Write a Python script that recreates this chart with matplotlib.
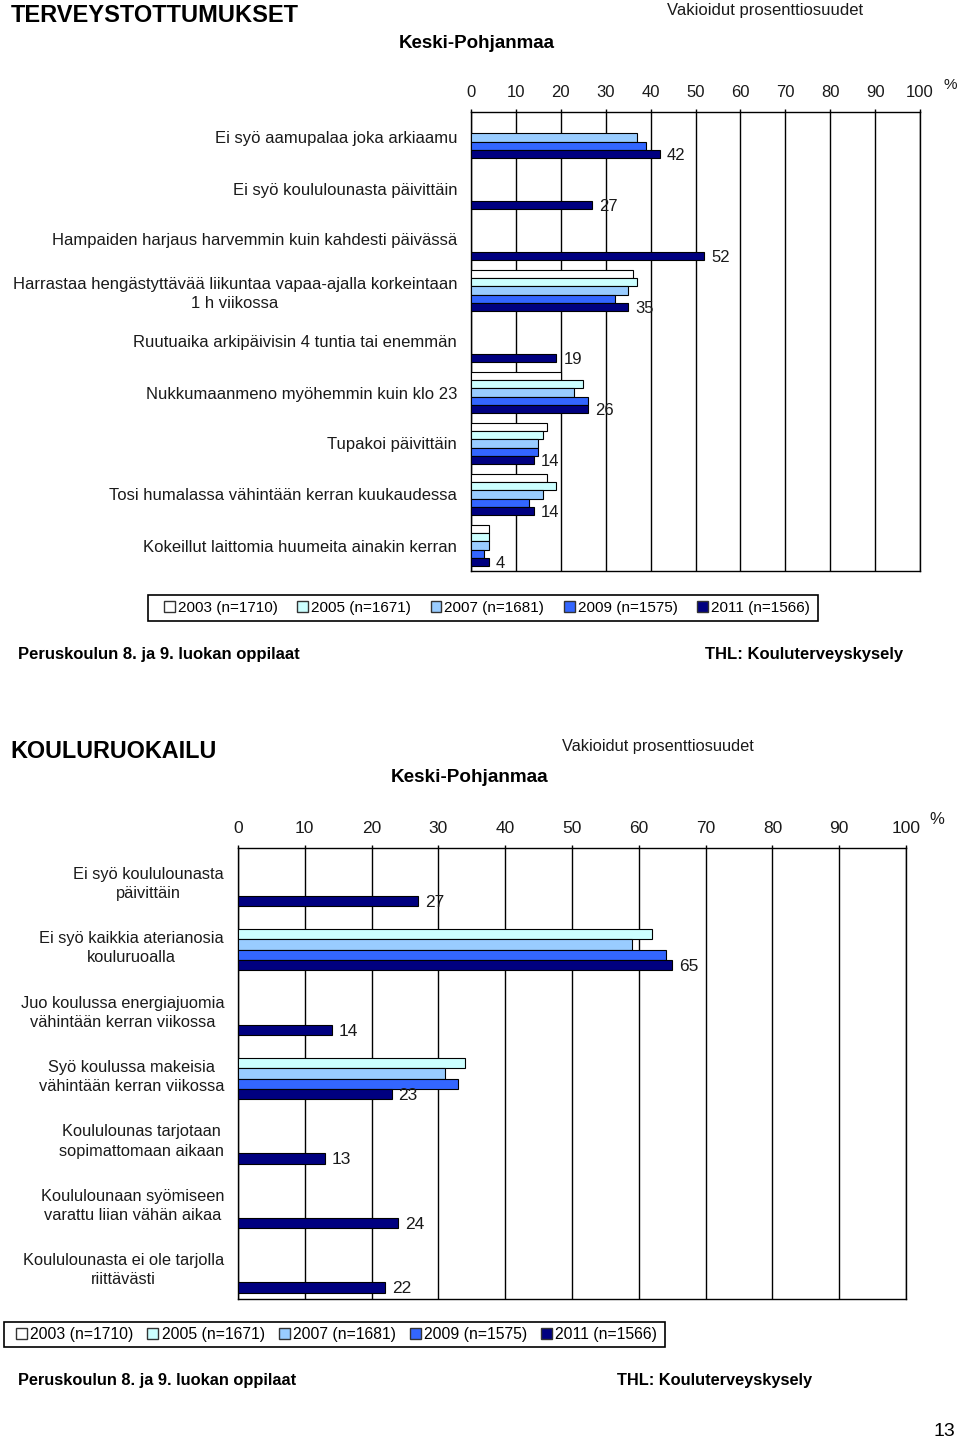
import numpy as np
import matplotlib
matplotlib.use("Agg")
import matplotlib.pyplot as plt
from matplotlib.patches import Patch, Rectangle

nan = np.nan

# --- data ---------------------------------------------------------------
years = ["2003 (n=1710)", "2005 (n=1671)", "2007 (n=1681)", "2009 (n=1575)", "2011 (n=1566)"]
colors = ["#FFFFFF", "#CCFFFF", "#99CCFF", "#3366FF", "#000080"]

top_categories = [
    "Ei syö aamupalaa joka arkiaamu",
    "Ei syö koululounasta päivittäin",
    "Hampaiden harjaus harvemmin kuin kahdesti päivässä",
    "Harrastaa hengästyttävää liikuntaa vapaa-ajalla korkeintaan\n1 h viikossa",
    "Ruutuaika arkipäivisin 4 tuntia tai enemmän",
    "Nukkumaanmeno myöhemmin kuin klo 23",
    "Tupakoi päivittäin",
    "Tosi humalassa vähintään kerran kuukaudessa",
    "Kokeillut laittomia huumeita ainakin kerran",
]
top_2003 = [nan, nan, nan, 36, nan, 20, 17, 17, 4]
top_2005 = [nan, nan, nan, 37, nan, 25, 16, 19, 4]
top_2007 = [37, nan, nan, 35, nan, 23, 15, 16, 4]
top_2009 = [39, nan, nan, 32, nan, 26, 15, 13, 3]
top_2011 = [42, 27, 52, 35, 19, 26, 14, 14, 4]

bot_categories = [
    "Ei syö koululounasta\npäivittäin",
    "Ei syö kaikkia aterianosia\nkouluruoalla",
    "Juo koulussa energiajuomia\nvähintään kerran viikossa",
    "Syö koulussa makeisia\nvähintään kerran viikossa",
    "Koululounas tarjotaan\nsopimattomaan aikaan",
    "Koululounaan syömiseen\nvarattu liian vähän aikaa",
    "Koululounasta ei ole tarjolla\nriittävästi",
]
bot_2003 = [nan, nan, nan, nan, nan, nan, nan]
bot_2005 = [nan, 62, nan, 34, nan, nan, nan]
bot_2007 = [nan, 59, nan, 31, nan, nan, nan]
bot_2009 = [nan, 64, nan, 33, nan, nan, nan]
bot_2011 = [27, 65, 14, 23, 13, 24, 22]

xticks = list(range(0, 101, 10))

FONT = ["Liberation Sans", "DejaVu Sans"]
TXT = "#1a1a1a"

W, H = 960, 1444
fig = plt.figure(figsize=(W / 100, H / 100), dpi=100)


def fx(px):
    return px / W


def fy(py):
    return 1 - py / H


def panel(ax, cats, series, fs, tfs, lsp):
    n = len(cats)
    y = np.arange(n)
    h = 0.16
    for j, (vals, col) in enumerate(zip(series, colors)):
        ax.barh(y + (j - 2) * h, vals, height=h, color=col,
                edgecolor="black", linewidth=0.8, zorder=3)
    last = series[-1]
    for i, v in enumerate(last):
        ax.annotate(f"{v:g}", (v, i + 2 * h), xytext=(5, -1),
                    textcoords="offset points", va="center", ha="left",
                    fontsize=tfs, family=FONT, color=TXT, zorder=4)
    ax.set_xlim(0, 100)
    ax.set_ylim(n - 0.5, -0.5)
    ax.set_yticks(y)
    ax.set_yticklabels(cats, family=FONT, fontsize=fs, color=TXT,
                       ha="right", multialignment="center", linespacing=lsp)
    ax.tick_params(axis="y", length=0, pad=10)
    ax.xaxis.tick_top()
    ax.set_xticks(xticks)
    ax.set_xticklabels([str(t) for t in xticks], family=FONT, fontsize=tfs,
                       color=TXT)
    ax.tick_params(axis="x", direction="out", length=2.5, width=1, pad=6)
    ax.grid(axis="x", color="black", linewidth=1, zorder=0)
    ax.set_axisbelow(True)
    for s in ax.spines.values():
        s.set_color("black")
        s.set_linewidth(1)


def legend_box(x0, x1, y0, y1, pad, fs):
    handles = [Patch(facecolor=c, edgecolor="#333333", linewidth=1) for c in colors]
    fig.legend(handles, years, loc="center left", ncol=5, mode="expand",
               bbox_to_anchor=(fx(x0 + pad), fy(y1), fx(x1 - x0 - pad - 8), (y1 - y0) / H),
               prop={"family": FONT, "size": fs}, frameon=False,
               handlelength=0.7, handleheight=0.7, handletextpad=0.2,
               borderpad=0, borderaxespad=0)
    fig.patches.append(Rectangle((fx(x0), fy(y1)), fx(x1 - x0), (y1 - y0) / H,
                                 transform=fig.transFigure, fill=False,
                                 edgecolor="black", linewidth=1.2))


# --- top chart: TERVEYSTOTTUMUKSET --------------------------------------
fig.text(fx(11), fy(16), "TERVEYSTOTTUMUKSET", fontsize=17, fontweight="bold",
         family=FONT, va="center", ha="left")
fig.text(fx(667), fy(11), "Vakioidut prosenttiosuudet", fontsize=12,
         family=FONT, va="center", ha="left", color=TXT)
fig.text(fx(477), fy(43), "Keski-Pohjanmaa", fontsize=13.5, fontweight="bold",
         family=FONT, va="center", ha="center")
fig.text(fx(950), fy(85), "%", fontsize=11, family=FONT, va="center",
         ha="center", color=TXT)

ax1 = fig.add_axes([fx(471), fy(571), fx(920 - 471), (571 - 112) / H])
panel(ax1, top_categories, [top_2003, top_2005, top_2007, top_2009, top_2011],
      12, 12, 1.3)

legend_box(148, 818, 595, 621, 16, 11)

fig.text(fx(18), fy(655), "Peruskoulun 8. ja 9. luokan oppilaat", fontsize=12,
         fontweight="bold", family=FONT, va="center", ha="left")
fig.text(fx(903), fy(655), "THL: Kouluterveyskysely", fontsize=12,
         fontweight="bold", family=FONT, va="center", ha="right")

# --- bottom chart: KOULURUOKAILU ----------------------------------------
fig.text(fx(10), fy(752), "KOULURUOKAILU", fontsize=16.8, fontweight="bold",
         family=FONT, va="center", ha="left")
fig.text(fx(562), fy(747), "Vakioidut prosenttiosuudet", fontsize=11.8,
         family=FONT, va="center", ha="left", color=TXT)
fig.text(fx(470), fy(778), "Keski-Pohjanmaa", fontsize=13.6, fontweight="bold",
         family=FONT, va="center", ha="center")
fig.text(fx(937), fy(819), "%", fontsize=12, family=FONT, va="center",
         ha="center", color=TXT)

ax2 = fig.add_axes([fx(238), fy(1299), fx(906 - 238), (1299 - 848) / H])
panel(ax2, bot_categories, [bot_2003, bot_2005, bot_2007, bot_2009, bot_2011],
      11.8, 12.5, 1.35)

legend_box(4, 665, 1322, 1347, 12, 11.3)

fig.text(fx(18), fy(1381), "Peruskoulun 8. ja 9. luokan oppilaat", fontsize=11.8,
         fontweight="bold", family=FONT, va="center", ha="left")
fig.text(fx(812), fy(1381), "THL: Kouluterveyskysely", fontsize=11.8,
         fontweight="bold", family=FONT, va="center", ha="right")
fig.text(fx(955), fy(1432), "13", fontsize=14, family=FONT, va="center",
         ha="right")

fig.savefig("out.png", dpi=100)
